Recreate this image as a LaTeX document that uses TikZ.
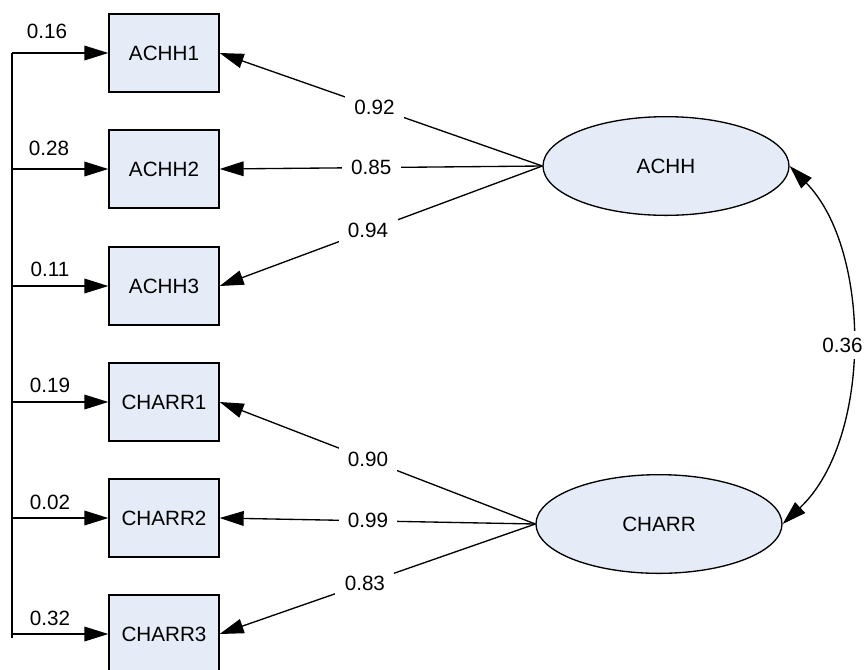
\documentclass[tikz,border=0pt]{standalone}
\usepackage{fontspec}
\setmainfont{Liberation Sans}
\usetikzlibrary{arrows.meta,shapes.geometric}
\definecolor{boxfill}{RGB}{230,236,247}
\begin{document}
\begin{tikzpicture}[x=0.75pt,y=-0.75pt,
  font=\fontsize{15.5}{18}\selectfont,
  obs/.style={draw, line width=1pt, fill=boxfill, minimum width=82.5pt, minimum height=58.5pt, inner sep=0pt},
  lat/.style={draw, ellipse, line width=1pt, fill=boxfill, minimum width=184.5pt, minimum height=74pt, inner sep=0pt},
  tip/.tip={Triangle[length=18pt,width=11pt]},
  arr/.style={line width=1pt, -tip},
  dbl/.style={line width=1pt, tip-tip},
  lab/.style={fill=white, inner xsep=7pt, inner ysep=4pt},
  elab/.style={inner sep=0pt},
  ]
\useasboundingbox (0,0) rectangle (867,669);

% observed variables
\node[obs] (b1) at (164,53)  {ACHH1};
\node[obs] (b2) at (164,169) {ACHH2};
\node[obs] (b3) at (164,286) {ACHH3};
\node[obs] (b4) at (164,402) {CHARR1};
\node[obs] (b5) at (164,518) {CHARR2};
\node[obs] (b6) at (164,634) {CHARR3};

% latent variables
\node[lat] (A) at (666,166) {ACHH};
\node[lat] (C) at (659,524) {CHARR};

% error terms
\coordinate (e1) at (12,53);
\coordinate (e2) at (12,169);
\coordinate (e3) at (12,286);
\coordinate (e4) at (12,402);
\coordinate (e5) at (12,518);
\coordinate (e6) at (12,634);
\coordinate (eend) at (12,638);
\draw[line width=1pt] (e1) -- (eend);
\draw[arr] (e1) -- (b1.west);
\draw[arr] (e2) -- (b2.west);
\draw[arr] (e3) -- (b3.west);
\draw[arr] (e4) -- (b4.west);
\draw[arr] (e5) -- (b5.west);
\draw[arr] (e6) -- (b6.west);
\node[elab] (l1) at (47,31)  {0.16};
\node[elab] (l2) at (49,148) {0.28};
\node[elab] (l3) at (50,269) {0.11};
\node[elab] (l4) at (50,385) {0.19};
\node[elab] (l5) at (50,502) {0.02};
\node[elab] (l6) at (50,618) {0.32};

% loadings
\draw[arr] (A.west) -- node[lab,pos=0.52] {0.92} (b1.east);
\draw[arr] (A.west) -- node[lab,pos=0.53] {0.85} (b2.east);
\draw[arr] (A.west) -- node[lab,pos=0.54] {0.94} (b3.east);
\draw[arr] (C.west) -- node[lab,pos=0.53] {0.90} (b4.east);
\draw[arr] (C.west) -- node[lab,pos=0.53] {0.99} (b5.east);
\draw[arr] (C.west) -- node[lab,pos=0.54] {0.83} (b6.east);

% covariance
\draw[dbl] (A.east) .. controls (872,250) and (872,440) .. node[lab,pos=0.5,xshift=-6pt,inner xsep=2pt,inner ysep=5pt] {0.36} (C.east);
\end{tikzpicture}
\end{document}
